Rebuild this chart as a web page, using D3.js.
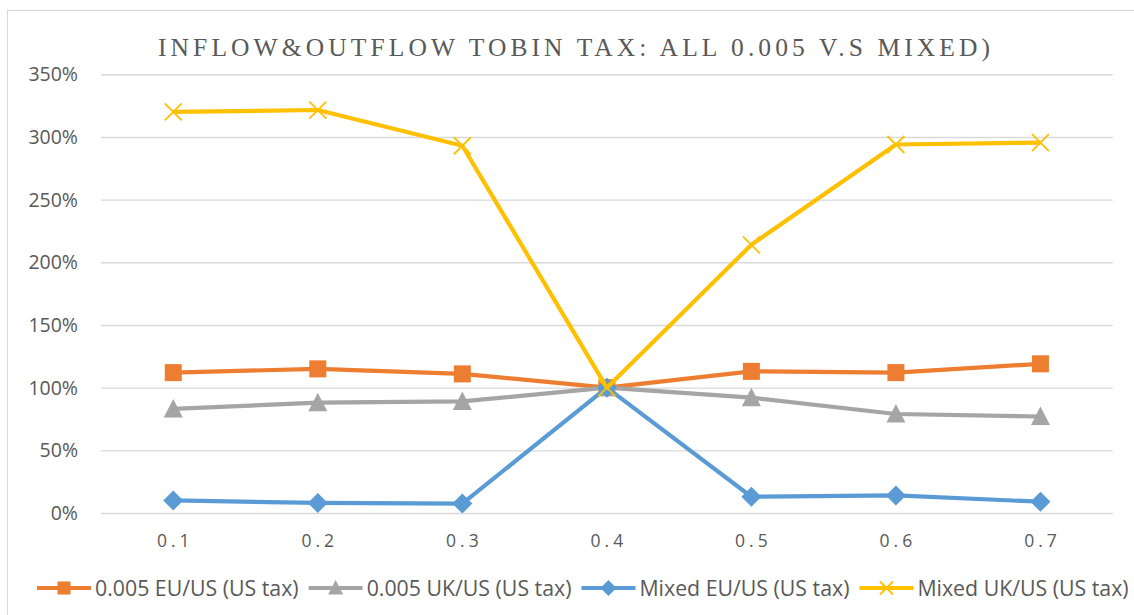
<!DOCTYPE html>
<html><head><meta charset="utf-8">
<script src="https://cdn.jsdelivr.net/npm/d3@7"></script>
<style>
html,body{margin:0;padding:0;background:#fff;}
svg{display:block;}
</style></head>
<body>
<svg id="chart" width="1134" height="615"></svg>
<script>
const categories = ["0.1","0.2","0.3","0.4","0.5","0.6","0.7"];
const euUs005 = [112, 115, 111, 100, 113, 112, 119];
const ukUs005 = [83, 88, 89, 100, 92, 79, 77];
const euUsMixed = [10, 8, 7.5, 100, 13, 14, 9];
const ukUsMixed = [320, 321.5, 293, 100, 214, 294, 295.5];
const yTicks = [0, 50, 100, 150, 200, 250, 300, 350];
const titleText = "INFLOW&OUTFLOW TOBIN TAX: ALL 0.005 V.S MIXED)";
const seriesNames = ["0.005 EU/US (US tax)", "0.005 UK/US (US tax)", "Mixed EU/US (US tax)", "Mixed UK/US (US tax)"];

const series = [
  {name: seriesNames[0], values: euUs005, color: "#ED7D31", marker: "square"},
  {name: seriesNames[1], values: ukUs005, color: "#A5A5A5", marker: "triangle"},
  {name: seriesNames[2], values: euUsMixed, color: "#5B9BD5", marker: "diamond"},
  {name: seriesNames[3], values: ukUsMixed, color: "#FFC000", marker: "x"}
];

const svg = d3.select("#chart");
const pLeft = 101, pRight = 1112.7, pTop = 74.3, pBottom = 513;
const x = d3.scaleBand().domain(categories).range([pLeft, pRight]);
const y = d3.scaleLinear().domain([0, 350]).range([pBottom, pTop]);
const textColor = "#595959";

// chart border
svg.append("rect").attr("x", 7.5).attr("y", 10.5).attr("width", 1140).attr("height", 620)
  .attr("fill", "#fff").attr("stroke", "#d9d9d9").attr("stroke-width", 1.2);

// title
svg.append("text").attr("x", 574).attr("y", 55.5).attr("text-anchor", "middle")
  .attr("font-family", "'Liberation Serif','DejaVu Serif',serif").attr("font-size", 25.5)
  .attr("fill", textColor).attr("textLength", 832).attr("lengthAdjust", "spacing")
  .text(titleText);

// gridlines + y axis
const yAxis = d3.axisLeft(y).tickValues(yTicks).tickSize(-(pRight - pLeft)).tickFormat(d => d + "%").tickPadding(23);
const gy = svg.append("g").attr("transform", `translate(${pLeft},0)`).call(yAxis);
gy.select(".domain").remove();
gy.selectAll(".tick line").attr("stroke", "#d9d9d9").attr("stroke-width", 1.4);
gy.selectAll(".tick text").attr("font-family", "'Open Sans','Noto Sans',sans-serif")
  .attr("font-size", 19.5).attr("fill", textColor).attr("dy", "0.34em");

// x axis
const xAxis = d3.axisBottom(x).tickSize(0).tickPadding(0);
const gx = svg.append("g").attr("transform", `translate(0,${pBottom})`).call(xAxis);
gx.select(".domain").remove();
gx.selectAll(".tick text").attr("font-family", "'Open Sans','Noto Sans',sans-serif")
  .attr("font-size", 17.5).attr("fill", textColor).attr("y", 34).attr("dy", 0)
  .style("letter-spacing", "4px").attr("dx", "2px");

const cx = (d, i) => x(categories[i]) + x.bandwidth() / 2;
const line = d3.line().x((d, i) => cx(d, i)).y(d => y(d));

function drawMarker(g, type, color, px, py, s) {
  const h = s / 2;
  if (type === "square") {
    g.append("rect").attr("x", px - h).attr("y", py - h).attr("width", s).attr("height", s).attr("fill", color);
  } else if (type === "triangle") {
    g.append("path").attr("d", `M${px},${py - h - 1.5}L${px + h + 1},${py + h}L${px - h - 1},${py + h}Z`).attr("fill", color);
  } else if (type === "diamond") {
    const d = h + 1.5;
    g.append("path").attr("d", `M${px},${py - d}L${px + d},${py}L${px},${py + d}L${px - d},${py}Z`).attr("fill", color);
  } else if (type === "x") {
    g.append("path").attr("d", `M${px - h},${py - h}L${px + h},${py + h}M${px + h},${py - h}L${px - h},${py + h}`)
      .attr("stroke", color).attr("stroke-width", 1.8).attr("fill", "none");
  }
}

series.forEach(s => {
  const g = svg.append("g");
  g.append("path").datum(s.values).attr("d", line).attr("fill", "none")
    .attr("stroke", s.color).attr("stroke-width", 4.2).attr("stroke-linejoin", "round");
  s.values.forEach((v, i) => drawMarker(g, s.marker, s.color, cx(v, i), y(v), 17));
});

// legend
const leg = svg.append("g");
let lx = 37;
const ly = 588;
series.forEach(s => {
  leg.append("line").attr("x1", lx).attr("x2", lx + 54).attr("y1", ly).attr("y2", ly)
    .attr("stroke", s.color).attr("stroke-width", 4.2);
  drawMarker(leg, s.marker, s.color, lx + 27, ly, 13);
  const t = leg.append("text").attr("x", lx + 58).attr("y", ly).attr("dy", "0.36em")
    .attr("font-family", "'Open Sans','Noto Sans',sans-serif").attr("font-size", 21.3)
    .attr("fill", textColor).text(s.name);
  lx = lx + 58 + t.node().getComputedTextLength() + 10;
});
</script>
</body></html>
